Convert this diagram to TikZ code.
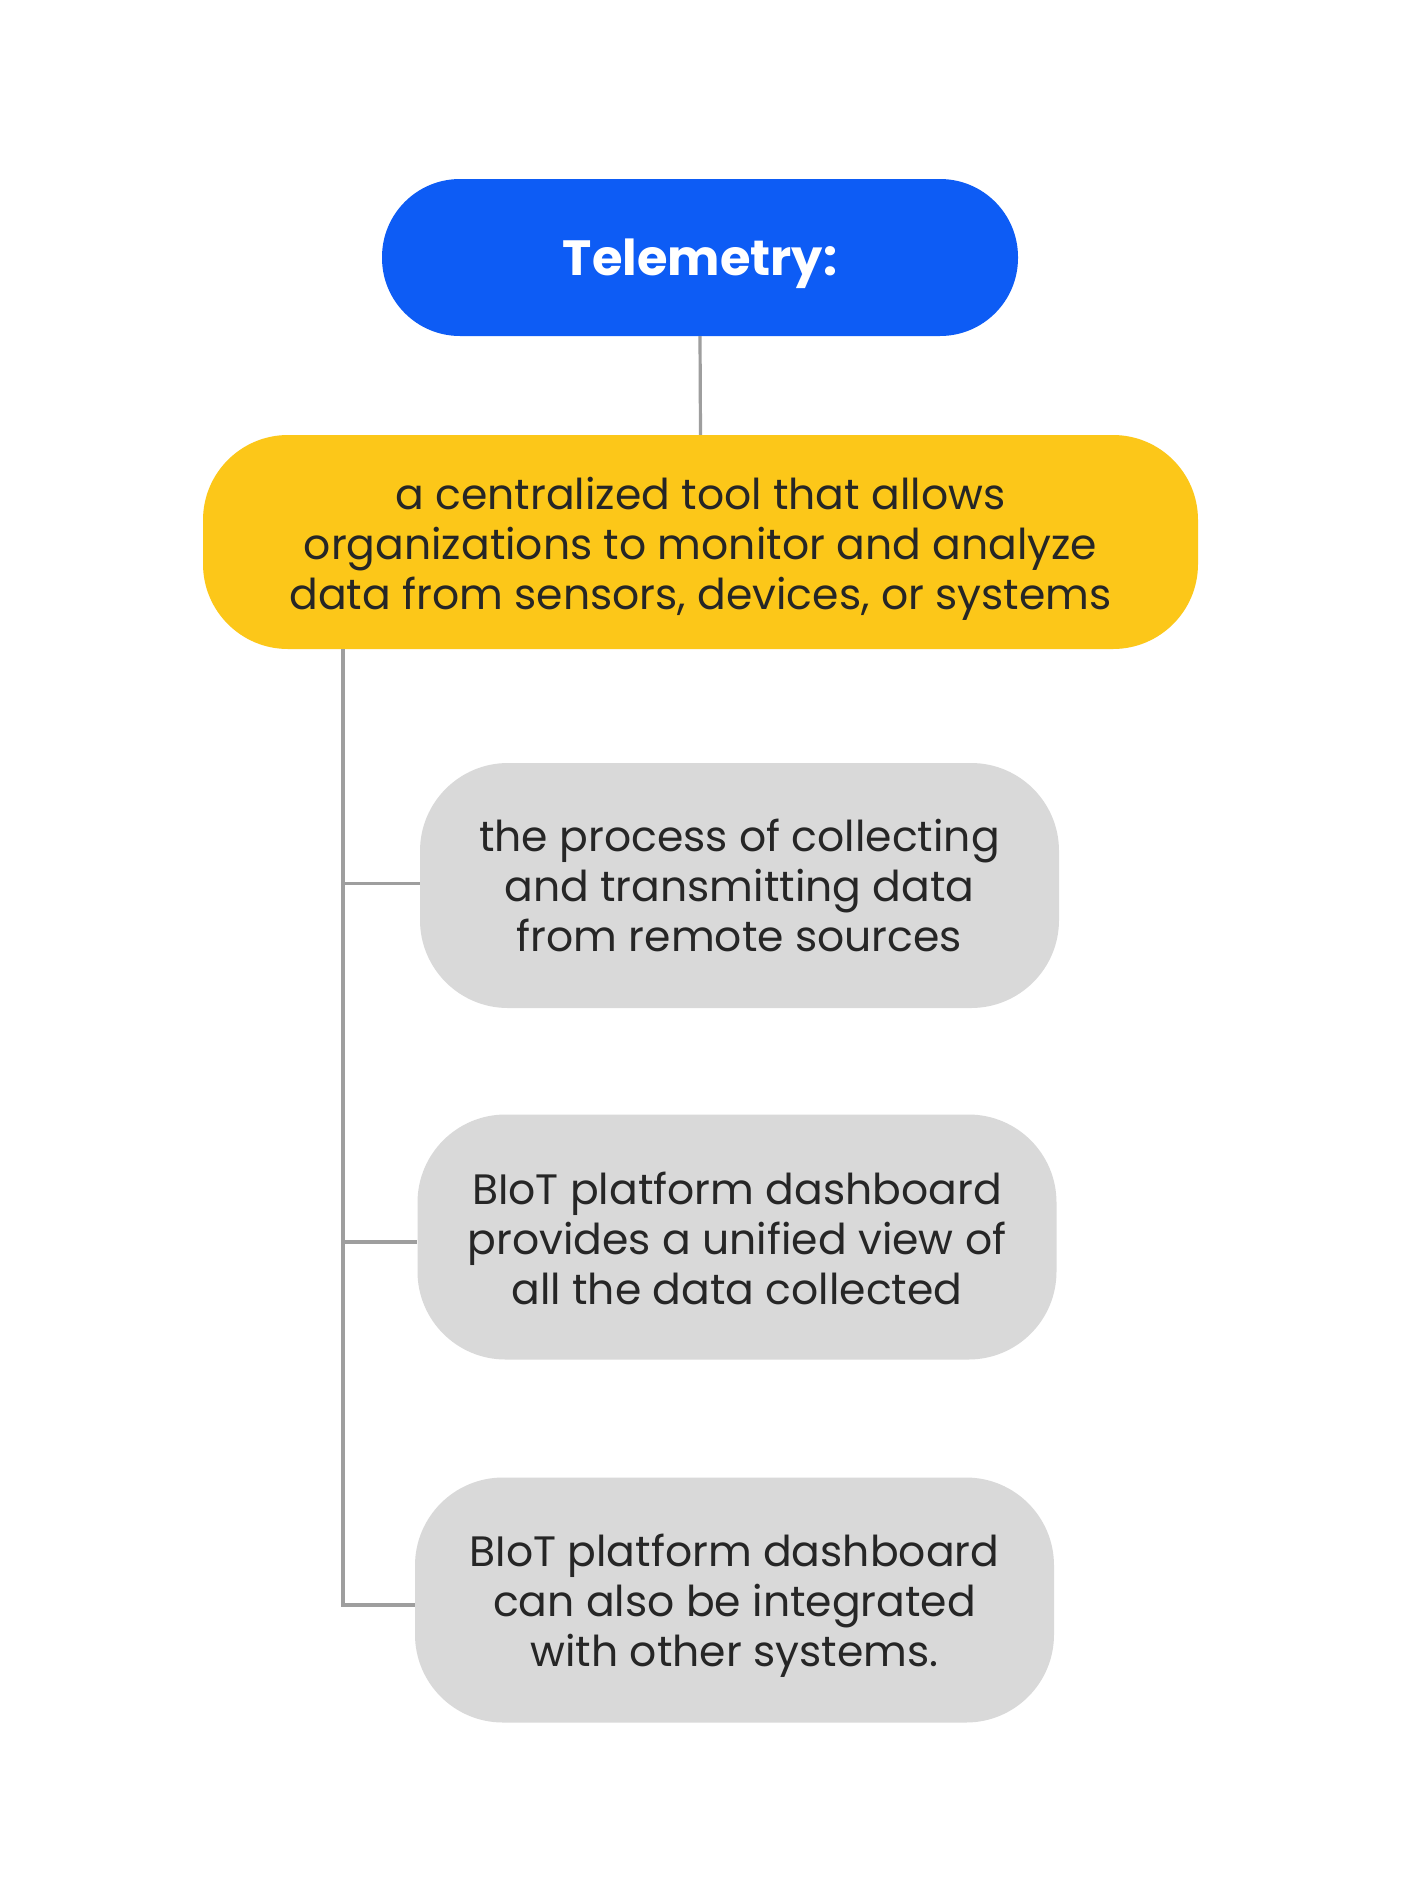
\documentclass[tikz,border=0pt]{standalone}
\usepackage{fontspec}
\setmainfont{Poppins}
\definecolor{tblue}{HTML}{0D5CF5}
\definecolor{tyellow}{HTML}{FCC719}
\definecolor{tgray}{HTML}{D9D9D9}
\definecolor{tline}{HTML}{9E9E9E}
\definecolor{ttext}{HTML}{262626}
\begin{document}
\begin{tikzpicture}[x=1pt,y=-1pt,
  box/.style={rectangle, inner sep=0pt},
  txt/.style={align=center, inner sep=0pt, text=ttext, font=\fontsize{42.5}{50}\selectfont},
  ttxt/.style={txt, text=white, font=\fontsize{49.5}{58}\selectfont\bfseries},
  title/.style={box, fill=tblue, rounded corners=78pt, minimum width=636pt, minimum height=157pt},
  main/.style={box, fill=tyellow, rounded corners=85pt, minimum width=995pt, minimum height=214pt},
  leaf/.style={box, fill=tgray, rounded corners=88pt, minimum width=639pt, minimum height=245pt},
  conn/.style={draw=tline, line width=3.2pt}]
\useasboundingbox (0,0) rectangle (1400,1903);
\fill[white] (0,0) rectangle (1400,1903);
\node[title] (t) at (700,257.5) {};
\node[ttxt] (tt) at ([yshift=-6pt]t.center) {Telemetry:};
\node[main] (m) at (700.5,542) {};
\node[txt] (mt) at ([yshift=-7pt]m.center) {a centralized tool that allows\\organizations to monitor and analyze\\data from sensors, devices, or systems};
\node[leaf] (g1) at (739.5,885.5) {};
\node[txt] (g1t) at (g1.center) {the process of collecting\\and transmitting data\\from remote sources};
\node[leaf] (g2) at (737,1237) {};
\node[txt] (g2t) at ([yshift=-1pt]g2.center) {BIoT platform dashboard\\provides a unified view of\\all the data collected};
\node[leaf] (g3) at (734.5,1600) {};
\node[txt] (g3t) at ([yshift=-6pt]g3.center) {BIoT platform dashboard\\can also be integrated\\with other systems.};
\coordinate (sp) at (343,0);
\draw[conn] (t.south) -- (m.north);
\draw[conn] (m.south -| sp) |- ([yshift=-5pt]g3.west);
\draw[conn] ([yshift=2pt]g1.west -| sp) -- ([yshift=2pt]g1.west);
\draw[conn] ([yshift=-5pt]g2.west -| sp) -- ([yshift=-5pt]g2.west);
\end{tikzpicture}
\end{document}
